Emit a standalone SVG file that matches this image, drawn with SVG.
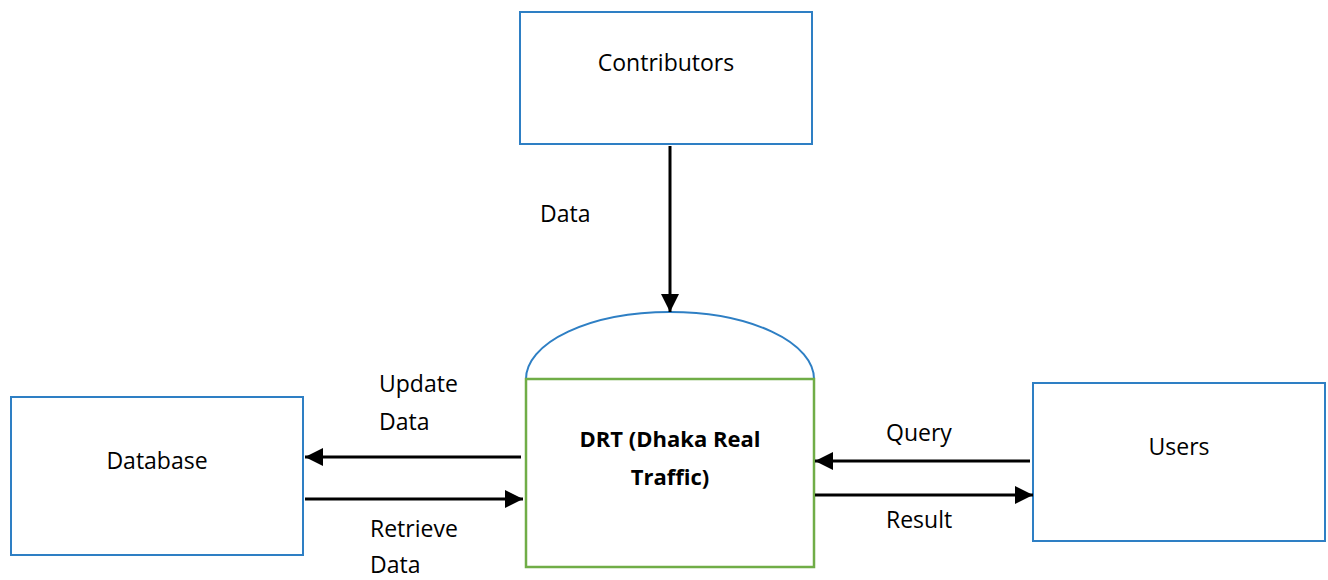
<svg xmlns="http://www.w3.org/2000/svg" width="1328" height="580" viewBox="0 0 1328 580">
  <style>
    .box { fill: #ffffff; stroke: #2e7fc4; stroke-width: 2; }
    .proc { fill: #ffffff; stroke: #70ad47; stroke-width: 2.5; }
    .cap { fill: none; stroke: #2e7fc4; stroke-width: 2; }
    .flow { stroke: #000000; stroke-width: 3; fill: none; marker-end: url(#head); }
    text { font-family: "Open Sans", "Liberation Sans", sans-serif; font-size: 23px; fill: #000000; }
    .mid { text-anchor: middle; }
    .bold { font-weight: bold; font-size: 22px; }
  </style>
  <defs>
    <marker id="head" viewBox="0 0 10 10" refX="10" refY="5" markerWidth="6" markerHeight="6" markerUnits="strokeWidth" orient="auto">
      <path d="M0,0 L10,5 L0,10 z" fill="#000000"/>
    </marker>
  </defs>
  <rect width="1328" height="580" fill="#ffffff"/>

  <g id="contributors">
    <rect class="box" x="520" y="12" width="292" height="132"/>
    <text class="mid" x="666" y="71">Contributors</text>
  </g>

  <g id="drt">
    <path class="cap" d="M526,379 A144,67 0 0 1 814,379"/>
    <rect class="proc" x="526" y="379" width="288" height="188"/>
    <text class="mid bold" x="670" y="447">DRT (Dhaka Real</text>
    <text class="mid bold" x="670" y="485">Traffic)</text>
  </g>

  <g id="database">
    <rect class="box" x="11" y="397" width="292" height="158"/>
    <text class="mid" x="157" y="469">Database</text>
  </g>

  <g id="users">
    <rect class="box" x="1033" y="383" width="292" height="158"/>
    <text class="mid" x="1179" y="455">Users</text>
  </g>

  <g id="connectors">
    <line class="flow" x1="670" y1="146" x2="670" y2="312"/>
    <line class="flow" x1="521" y1="457" x2="305" y2="457"/>
    <line class="flow" x1="305" y1="499" x2="523" y2="499"/>
    <line class="flow" x1="1030" y1="461" x2="815" y2="461"/>
    <line class="flow" x1="815" y1="495" x2="1033" y2="495"/>
    <text x="540" y="222">Data</text>
    <text x="379" y="392">Update</text>
    <text x="379" y="430">Data</text>
    <text x="370" y="537">Retrieve</text>
    <text x="370" y="573">Data</text>
    <text x="886" y="441">Query</text>
    <text x="886" y="528">Result</text>
  </g>
</svg>
